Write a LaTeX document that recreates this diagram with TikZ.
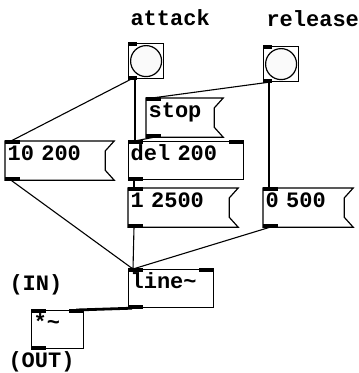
\documentclass[tikz,border=0pt]{standalone}
\usepackage{fontspec}
\newfontfamily\pdfont{Liberation Mono}
\usetikzlibrary{positioning}

\begin{document}
\begin{tikzpicture}[x=1pt, y=-1pt, font=\pdfont\bfseries\fontsize{22}{22}\selectfont,
  box/.style={anchor=north west, inner xsep=2pt, inner ysep=0pt, text height=18.5pt, text depth=19.5pt, text width=#1, line width=1.2pt},
  obj/.style={box=#1, draw},
  msg/.style={box=#1},
  bng/.style={draw, anchor=north west, minimum size=35pt, inner sep=0pt, line width=1.2pt},
  wire/.style={line width=1.1pt},
  sig/.style={line width=2.8pt}]

  \useasboundingbox (0,0) rectangle (359,373);

  \node[anchor=base west] (attacklbl) at (127,25) {attack};
  \node[anchor=base west] (releaselbl) at (263,26) {release};
  \node[anchor=base west] (inlbl) at (6,290) {(IN)};
  \node[anchor=base west] (outlbl) at (5,367) {(OUT)};

  \node[bng] (attack) at (128,43) {};
  \node[bng] (release) at (263,46) {};
  \draw[line width=1.2pt, fill=gray!4] (attack.center) circle (15.5pt);
  \draw[line width=1.2pt, fill=gray!4] (release.center) circle (15.5pt);

  \node[msg=104pt] (m10) at (5,141) {10 200};
  \node[msg=72pt] (stop) at (146,98) {stop};
  \node[obj=111pt] (del) at (128,141) {del 200};
  \node[msg=105pt] (m1) at (128,188) {1 2500};
  \node[msg=85pt] (m0) at (263,188) {0 500};
  \node[obj=81pt] (line) at (128,269) {line\textasciitilde};
  \node[obj=48pt] (mul) at (31,310) {*\textasciitilde};

  \foreach \m in {m10, stop, m1, m0}
    \draw[line width=1.2pt] (\m.north east) -- (\m.north west) -- (\m.south west) -- (\m.south east)
      -- ([xshift=-9pt, yshift=10pt]\m.south east) -- ([xshift=-9pt, yshift=-10pt]\m.north east) -- cycle;

  \foreach \n in {m10, stop, del, m1, m0, line, mul} {
    \fill ([yshift=0.6pt]\n.north west) rectangle ++(15pt,-3.6pt);
    \fill ([yshift=-0.6pt]\n.south west) rectangle ++(15pt,3.6pt);
  }
  \foreach \n in {del, line, mul}
    \fill ([yshift=0.6pt]\n.north east) rectangle ++(-15pt,-3.6pt);
  \foreach \n in {attack, release} {
    \fill ([yshift=0.6pt]\n.north west) rectangle ++(9pt,-3.6pt);
    \fill ([yshift=-0.6pt]\n.south west) rectangle ++(9pt,3.6pt);
  }

  \draw[wire] ([xshift=3pt]attack.south west) -- ([xshift=6pt]m10.north west);
  \draw[wire] ([xshift=7pt]attack.south west) -- ([xshift=7pt]del.north west);
  \draw[wire] ([xshift=6pt]release.south west) -- ([xshift=6pt]stop.north west);
  \draw[wire] ([xshift=6pt]release.south west) -- ([xshift=6pt]m0.north west);
  \draw[wire] ([xshift=8pt]stop.south west) -- ([xshift=7pt]del.north west);
  \draw[wire] ([xshift=6pt]m10.south west) -- ([xshift=5pt]line.north west);
  \draw[wire] ([xshift=6pt]del.south west) -- ([xshift=6pt]m1.north west);
  \draw[wire] ([xshift=6pt]m1.south west) -- ([xshift=5pt]line.north west);
  \draw[wire] ([xshift=7pt]m0.south west) -- ([xshift=5pt]line.north west);
  \draw[sig] ([xshift=4pt]line.south west) -- ([xshift=-8pt]mul.north east);
\end{tikzpicture}
\end{document}
